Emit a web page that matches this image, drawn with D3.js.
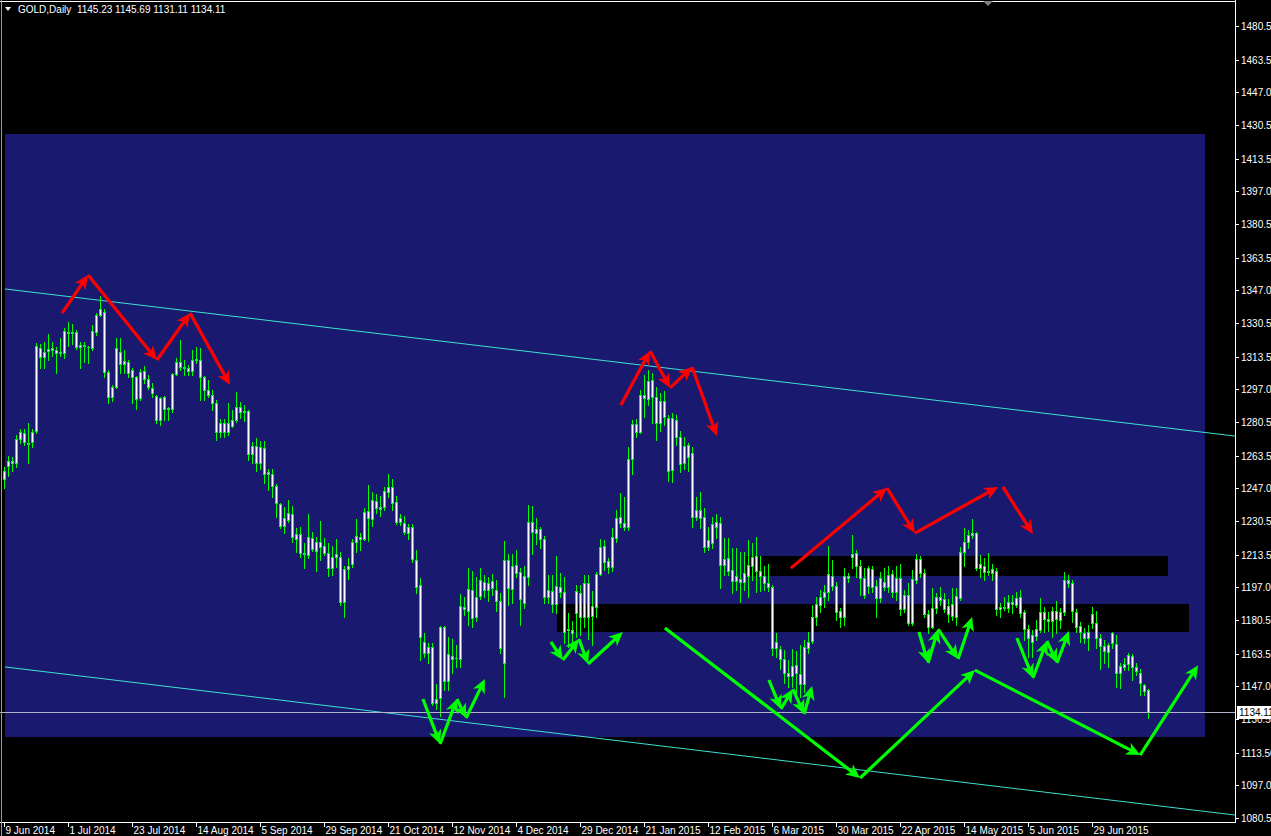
<!DOCTYPE html>
<html><head><meta charset="utf-8">
<script src="https://cdn.jsdelivr.net/npm/d3@7"></script>
<style>html,body{margin:0;padding:0;background:#000;overflow:hidden}svg{display:block}</style>
</head><body>
<script>
// ---------- DATA ----------
const symbolTitle = "GOLD,Daily";
const lastQuote = ["1145.23", "1145.69", "1131.11", "1134.11"];
const bidPrice = 1134.11;

const opens = [1251.5,1258.5,1261,1260,1272,1275,1270,1270.5,1276,1318,1313.5,1316.5,1317,1317,1315.5,1315.5,1326,1325.5,1326,1318.5,1319.4,1318.5,1318,1326,1334.5,1336,1306,1293,1298,1316,1310,1311,1306.7,1303,1292.5,1306.5,1302,1297.7,1293.6,1281.5,1293,1287,1287,1304.5,1311,1308.5,1308,1306.5,1312,1312,1303,1296.5,1294,1290,1275.4,1280,1275.5,1278.5,1281.5,1288,1285.5,1286,1264.3,1268.4,1259.8,1267.4,1255,1254.2,1248.2,1239.1,1228,1231,1234,1221.4,1223.9,1214.3,1213.3,1222,1215.4,1219.9,1218,1214.3,1206.7,1212.3,1212.3,1189.6,1206.2,1208.8,1220,1222.5,1221.4,1235.5,1231.5,1240.6,1237.5,1237.6,1245,1247.7,1240.1,1230,1229.5,1224.5,1227.5,1210.8,1198.2,1169.4,1163.8,1166.9,1138.6,1141.1,1176.9,1149.7,1162.3,1161.3,1160.8,1187,1185.1,1195.7,1182,1192.6,1199.7,1195.7,1200.2,1195.7,1190.1,1158.8,1210.8,1196.2,1208.3,1204.7,1189.1,1202.2,1230,1224.4,1226.5,1221.4,1192.1,1195.2,1188.6,1197.2,1194.6,1175.5,1175.4,1184,1194.1,1182,1199.2,1182.5,1187.1,1203.7,1217.9,1210.3,1207.3,1221.9,1229.5,1229.5,1227.5,1261.8,1279.5,1275.4,1294,1292.1,1301.7,1293.1,1280,1291.1,1282.5,1256.3,1281.5,1272.9,1259.8,1268.9,1264.8,1232.5,1236.1,1232.5,1217.4,1219.4,1230,1229.5,1208.3,1211.8,1205.7,1200.2,1201.2,1199.7,1202.7,1207.8,1212.8,1205.2,1202.7,1199.2,1197.2,1166.4,1165.9,1160.8,1153.7,1152.2,1157.8,1153.2,1148.2,1166.4,1169.9,1182,1188.1,1192.1,1194.6,1202.7,1197.7,1185,1182,1202.7,1212.3,1214.3,1207.8,1201.7,1197.7,1206.2,1197.7,1191.6,1199.7,1197.2,1203.7,1194.6,1201.7,1186.1,1193.1,1179,1200.7,1211.3,1204.2,1183.5,1176.9,1186.6,1192.1,1191.1,1187.6,1188.6,1182,1191.6,1214.8,1219.9,1223.4,1224.4,1206.7,1207.7,1205.2,1204.2,1205.2,1186.1,1187.1,1186.6,1189.6,1188.1,1192.1,1184.5,1176,1172.9,1172.4,1175.5,1184.5,1181,1180,1185,1180.5,1184.5,1200.7,1199.2,1184.5,1177.4,1173.9,1171.4,1179,1179,1171.4,1167.4,1164.3,1168.9,1168.4,1153.7,1156.8,1158.3,1162.3,1156.8,1153.7,1147.7,1145.23];
const highs = [1258,1263.5,1263,1274,1277,1277,1280,1277,1320.5,1320,1321,1325,1321,1318.5,1323,1328,1331,1330,1327,1321,1321,1318.8,1329.5,1335.5,1344,1337.5,1307,1299,1323,1323,1317,1312,1308,1303.5,1307.5,1309,1304,1300,1294,1293,1293.5,1288,1305,1312.8,1321.9,1311.8,1309.3,1316.9,1318.4,1318,1303.5,1301.7,1296.7,1291.6,1282,1282,1290,1286.6,1295.6,1290.6,1289,1286.6,1270.4,1272.4,1270.9,1270.9,1257,1256.8,1249.2,1239.6,1237.6,1241,1238,1227,1227.5,1219.4,1234,1225,1222.4,1230.5,1222,1219.4,1218,1221.4,1215,1207.8,1212,1221.4,1231.5,1224.4,1237,1248.7,1245,1244,1243,1247.5,1254,1251.5,1243,1234,1233,1229,1229,1215.8,1201.7,1174,1169,1169,1148,1177.4,1177.4,1172,1171,1167.9,1193.6,1192,1207,1205,1202,1207,1203,1202,1203.5,1200.7,1194,1220.4,1214,1213.8,1215.9,1207,1208,1238.5,1238,1232,1227.5,1223,1203,1203,1213,1204,1202,1184,1180,1198,1198,1203,1203,1195,1204.5,1221.5,1221,1212,1227,1236,1244.5,1242.5,1267.8,1281.5,1282,1296.8,1304,1307,1305,1298,1295,1296,1284,1285,1284,1276,1273,1270,1268,1242.5,1245,1237,1227.5,1232.5,1234,1232.5,1222,1221.8,1217,1216.7,1214.8,1214.8,1221,1219.4,1222.4,1213,1208,1209,1198,1174,1167.6,1165.4,1160.3,1165.9,1165,1167.9,1170.4,1174.4,1188,1192,1195.7,1198,1218,1210.8,1199.7,1186.6,1206.6,1204,1223.6,1215.9,1210.8,1207,1208,1208,1200.7,1204.7,1207,1208,1205.7,1208,1209,1195.6,1199,1206,1214,1212.8,1206.5,1185.6,1196.7,1194,1197,1194,1191,1196.7,1196.5,1217.4,1227,1226,1231.5,1225,1213.3,1211.8,1214.3,1209,1206.7,1189,1192,1193,1193,1194.6,1195.7,1185.5,1178,1175.5,1180.5,1191.6,1187,1184.5,1187,1190,1186.5,1204.7,1203,1200.7,1186,1179.5,1176.5,1178,1187,1185,1173.5,1170.4,1169,1174.5,1173,1158.8,1161.3,1163.8,1163.4,1158.8,1156,1148,1145.69];
const lows = [1247,1253,1256,1258,1270,1269,1260,1268,1275,1308,1308,1312,1314,1305,1314,1313,1319,1320,1317.5,1308,1311,1310.5,1317,1324.5,1334,1303,1290,1291,1297.5,1305,1305,1303,1290,1287,1291.5,1300,1297,1293,1280,1279,1281.5,1281.5,1285.5,1304,1306.7,1304,1304,1304,1310.3,1291.6,1291.6,1293,1286.6,1271.4,1272.9,1273,1273.9,1278,1280.5,1282.5,1281,1261.3,1260,1255.8,1256.8,1249.7,1246,1242.6,1232.5,1227,1224.4,1230,1220,1214.8,1212.3,1206.7,1212,1215.4,1205.3,1210.8,1213.3,1202.7,1203,1207.2,1188,1182,1201,1207.3,1214.8,1215.9,1221,1220.4,1228,1234.5,1233,1236,1242.5,1236,1229,1228.5,1224,1221.4,1209.8,1194,1160.3,1162,1159,1137.5,1135.5,1132,1145,1145,1153.8,1156.8,1157,1183,1178,1177,1180,1191,1192,1190,1193,1185,1164,1141.6,1188,1189,1202,1178,1186.5,1198,1214,1219,1217,1189,1189,1184.5,1184,1192,1169,1167,1169,1172,1173,1177,1171,1168,1182,1203,1206,1204,1205,1220,1227.6,1226,1226,1254,1273,1275,1283,1289,1280,1271.5,1276,1279,1250.7,1250,1269,1255,1257,1256,1227.5,1231,1227,1214.8,1215.8,1216.8,1222,1196.6,1203,1203,1194,1195.7,1189.6,1195.7,1192,1200.7,1194.6,1195,1195.7,1195,1163,1162,1156,1148.7,1146.7,1146.7,1143.5,1141.6,1144,1163.8,1169,1178,1184.5,1187,1190.6,1195.7,1180.5,1177,1178,1199.7,1207,1202,1193,1191.6,1194,1194.6,1182,1189.6,1195.7,1194.6,1192,1190.6,1183,1184.6,1178,1178,1199,1202,1182,1174,1176.4,1184,1188,1184.5,1179.5,1180.5,1178,1190.6,1208,1217,1222,1206,1202,1200.7,1203,1200.7,1183,1182,1185.6,1184.5,1184,1187,1182,1170.4,1162,1162,1170.4,1174.5,1174.5,1175,1172,1174,1176.5,1183,1197,1179.5,1174.4,1169.4,1168.9,1165.4,1176.4,1166.4,1156,1159,1157,1166.5,1146.7,1146,1155,1155,1150,1152.7,1142.6,1142.6,1131.11];
const closes = [1256,1261,1260,1272,1275.5,1270.5,1269.5,1275.5,1319,1313.5,1316,1317.3,1318,1315.5,1316,1326.5,1325.5,1326,1318.5,1319.4,1319,1318.3,1326.5,1334.5,1337.5,1306,1293,1298,1318,1310,1311.3,1305,1303.2,1292,1306,1302,1298,1295.2,1281.5,1292.5,1287,1287.5,1304.5,1311,1308.5,1308,1306.5,1311.8,1312.5,1303,1296.7,1294,1290,1275.4,1280,1275.5,1280,1281.5,1288,1285.5,1286,1264.3,1268.4,1259.8,1267.8,1254.2,1254.2,1248.2,1239.6,1228,1232,1234.5,1222.4,1223.9,1214.3,1213.8,1222.4,1216.4,1219.9,1217.4,1214.3,1206.7,1212.3,1213.8,1189.6,1206.2,1207.7,1219.9,1222.9,1221.5,1235,1232,1241,1237.1,1236.5,1245.6,1247.7,1239.6,1230,1232,1225,1227.5,1211.3,1197.2,1171.9,1163.8,1166.9,1138.6,1140.6,1176.9,1149.7,1163.3,1160.8,1161.1,1187.6,1186,1196.2,1181.5,1192.1,1200.7,1195.7,1199.2,1196.6,1190.1,1166.4,1210.8,1196.6,1207.8,1204.2,1191.1,1202.7,1230,1224.9,1226.5,1221.4,1192.1,1195.7,1188.6,1197.7,1194.6,1174.4,1176,1173.9,1195.2,1182,1199.2,1182,1187.6,1203.7,1217.4,1209.8,1207.3,1222.4,1232,1232.5,1227.5,1261.8,1279.5,1275.4,1294.1,1292.5,1301.2,1293.1,1280,1291.1,1283,1255.8,1282.5,1272.9,1259.3,1268.4,1262.8,1232.5,1236.1,1232,1217.4,1220.9,1229,1227.5,1208.3,1211.3,1205.2,1200.2,1202.7,1199.7,1204.2,1208.3,1212.3,1205.2,1202.7,1199.2,1197.2,1166.4,1169.4,1160.8,1153.7,1152.2,1157.3,1153.7,1148.2,1166.9,1169.4,1182,1188.6,1192.1,1194.6,1203.7,1197.7,1184.5,1182,1202.7,1201.7,1213.8,1207.8,1201.7,1193.1,1206.7,1197.2,1191.6,1201.7,1197.2,1203.2,1194.6,1201.7,1186.1,1193.1,1179,1201.2,1211.3,1204.2,1183.5,1176.9,1186.6,1192.1,1190.6,1186.1,1183.5,1182.5,1192.6,1214.8,1219.9,1223.4,1224.4,1206.7,1208.8,1204.7,1204.7,1206.2,1186.1,1187.1,1186.6,1189.6,1188.6,1191.6,1184,1176,1171.4,1169.4,1176,1184.5,1181,1180,1185,1181,1184.5,1200.7,1199.2,1185,1176.9,1174.4,1171.4,1174.4,1183.5,1171.4,1167.4,1164.8,1167.9,1173.9,1153.7,1157.3,1158.3,1162.8,1156.8,1154.7,1148.7,1144.6,1134.11];

// price scale labels (right axis)
const priceTicks = [1480.5,1463.5,1447,1430.5,1413.5,1397,1380.5,1363.5,1347,1330.5,1313.5,1297,1280.5,1263.5,1247,1230.5,1213.5,1197,1180.5,1163.5,1147,1130.5,1113.5,1097,1080.5];
// time scale labels (bar index of each label)
const dateTickBars = [0,16,32,48,64,80,96,112,128,144,160,176,192,208,224,240,256,272];
const dateTickLabels = ["9 Jun 2014","1 Jul 2014","23 Jul 2014","14 Aug 2014","5 Sep 2014","29 Sep 2014","21 Oct 2014","12 Nov 2014","4 Dec 2014","29 Dec 2014","21 Jan 2015","12 Feb 2015","6 Mar 2015","30 Mar 2015","22 Apr 2015","14 May 2015","5 Jun 2015","29 Jun 2015"];

// drawn objects, in (bar index, price)
const zoneRect = [[0.1,1425.9],[300.1,1121.4]];
const resistanceBand = [[185.1,1212.8],[290.9,1202.7]];
const supportBand = [[138.1,1188.6],[296.1,1174.4]];
const upperChannel = [[0.1,1347.7],[307.6,1273.4]];
const lowerChannel = [[0.1,1156.8],[307.6,1082.0]];
const redPaths = [
  [[14.4,1335.5],[20.9,1354.7],[38.1,1311.8],[46.4,1335.5],[56.4,1299.2]],
  [[154.1,1289.1],[161.4,1316.4],[166.4,1297.7],[171.9,1308.3],[178.1,1273.4]],
  [[196.6,1206.7],[220.6,1247.2],[227.6,1224.4],[248.4,1247.7]],
  [[249.6,1247.7],[257.1,1223.9]]
];
const greenPaths = [
  [[104.6,1140.6],[108.9,1117.9],[113.1,1140.6],[115.4,1131],[120.1,1150.7]],
  [[136.6,1169.4],[139.6,1160.3],[143.6,1170.9],[145.9,1158.3],[154.6,1174.4]],
  [[191.1,1150.2],[194.1,1135.6],[197.1,1145.6],[199.9,1133],[201.9,1147.2]],
  [[228.6,1174.4],[230.9,1158.8],[233.4,1175.9],[238.4,1160.8],[241.9,1182]],
  [[253.1,1171.4],[257.1,1151.2],[260.6,1169.9],[263.1,1158.8],[266.1,1174.9]],
  [[165.1,1176.5],[213.9,1100.7],[242.6,1155.2],[283.9,1112.3],[298.4,1157.7]]
];

// ---------- DRAW ----------
const W = 1271, H = 836;
const plotRight = 1235, plotBottom = 822;
const FONT = "'Liberation Sans', Arial, sans-serif";

const svg = d3.select("body").append("svg").attr("width", W).attr("height", H)
  .style("background", "#000");

const x = d3.scaleLinear().domain([0, 286]).range([4.5, 1148.5]);
const y = d3.scaleLinear().domain([1080.5, 1480.5]).range([818, 26]);

const clip = svg.append("defs").append("clipPath").attr("id", "plot")
  .append("rect").attr("x", 0).attr("y", 0).attr("width", plotRight).attr("height", plotBottom);
const plot = svg.append("g").attr("clip-path", "url(#plot)");

function rectFrom(g, r, color) {
  const x0 = x(r[0][0]), x1 = x(r[1][0]);
  const y0 = y(r[0][1]), y1 = y(r[1][1]);
  g.append("rect").attr("x", Math.round(x0)).attr("y", Math.round(y0))
    .attr("width", Math.round(x1 - x0)).attr("height", Math.round(y1 - y0))
    .attr("fill", color).attr("shape-rendering", "crispEdges");
}
rectFrom(plot, zoneRect, "#191970");
rectFrom(plot, resistanceBand, "#000000");
rectFrom(plot, supportBand, "#000000");

// channel lines (rays to the right edge)
[upperChannel, lowerChannel].forEach(l => {
  const slope = (l[1][1] - l[0][1]) / (l[1][0] - l[0][0]);
  const endBar = x.invert(plotRight + 5);
  plot.append("line")
    .attr("x1", x(l[0][0])).attr("y1", y(l[0][1]))
    .attr("x2", x(endBar)).attr("y2", y(l[0][1] + slope * (endBar - l[0][0])))
    .attr("stroke", "#40E0D0").attr("stroke-width", 1);
});

// candles
const cg = plot.append("g").attr("shape-rendering", "crispEdges");
opens.forEach((o, i) => {
  const c = closes[i], hi = highs[i], lo = lows[i];
  const cx = Math.floor(x(i));
  const yh = Math.round(y(hi)), yl = Math.round(y(lo));
  const yt = Math.round(y(Math.max(o, c))), yb = Math.round(y(Math.min(o, c)));
  cg.append("rect").attr("x", cx).attr("y", yh).attr("width", 1).attr("height", yl - yh + 1).attr("fill", "#00ff00");
  cg.append("rect").attr("x", cx - 1).attr("y", yt).attr("width", 3).attr("height", Math.max(1, yb - yt + 1)).attr("fill", "#00ff00");
  if (yb - yt >= 2) {
    cg.append("rect").attr("x", cx).attr("y", yt + 1).attr("width", 1).attr("height", yb - yt - 1).attr("fill", "#ffffff");
  }
});

// bid line
plot.append("line").attr("x1", 0).attr("x2", plotRight)
  .attr("y1", Math.round(y(bidPrice)) + 0.5).attr("y2", Math.round(y(bidPrice)) + 0.5)
  .attr("stroke", "#b4b4c8").attr("stroke-width", 1);

// arrows
function arrow(g, p0, p1, color) {
  const x0 = x(p0[0]), y0 = y(p0[1]), x1 = x(p1[0]), y1 = y(p1[1]);
  const dx = x1 - x0, dy = y1 - y0, len = Math.hypot(dx, dy);
  const ux = dx / len, uy = dy / len, px = -uy, py = ux;
  const L = 14, Wd = 6.5;
  g.append("line").attr("x1", x0).attr("y1", y0)
    .attr("x2", x1 - ux * L * 0.6).attr("y2", y1 - uy * L * 0.6)
    .attr("stroke", color).attr("stroke-width", 3.2).attr("stroke-linecap", "butt");
  const pts = [
    [x1, y1],
    [x1 - ux * L + px * Wd, y1 - uy * L + py * Wd],
    [x1 - ux * L * 0.72, y1 - uy * L * 0.72],
    [x1 - ux * L - px * Wd, y1 - uy * L - py * Wd]
  ];
  g.append("polygon").attr("points", pts.map(p => p.join(",")).join(" ")).attr("fill", color);
}
const ag = plot.append("g");
redPaths.forEach(path => { for (let k = 0; k < path.length - 1; k++) arrow(ag, path[k], path[k + 1], "#ff0000"); });
greenPaths.forEach(path => { for (let k = 0; k < path.length - 1; k++) arrow(ag, path[k], path[k + 1], "#00ff00"); });

// frame
svg.append("line").attr("x1", plotRight + 0.5).attr("x2", plotRight + 0.5).attr("y1", 0).attr("y2", plotBottom + 1)
  .attr("stroke", "#fff").attr("stroke-width", 1);
svg.append("line").attr("x1", 0).attr("x2", plotRight + 1).attr("y1", plotBottom + 0.5).attr("y2", plotBottom + 0.5)
  .attr("stroke", "#fff").attr("stroke-width", 1);
svg.append("line").attr("x1", 0).attr("x2", plotRight + 1).attr("y1", 1.5).attr("y2", 1.5)
  .attr("stroke", "#fff").attr("stroke-width", 1);
svg.append("line").attr("x1", 1.5).attr("x2", 1.5).attr("y1", 0).attr("y2", H)
  .attr("stroke", "#9a9a9a").attr("stroke-width", 1);

// right price axis
const ra = svg.append("g");
priceTicks.forEach(v => {
  const yy = Math.round(y(v)) + 0.5;
  ra.append("line").attr("x1", plotRight + 1).attr("x2", plotRight + 4).attr("y1", yy).attr("y2", yy).attr("stroke", "#fff");
  ra.append("text").attr("x", plotRight + 6).attr("y", yy + 3.5).attr("fill", "#fff")
    .attr("font-family", FONT).attr("font-size", 10).text(v.toFixed(2));
});
// current price label
const by = Math.round(y(bidPrice));
ra.append("rect").attr("x", plotRight + 2).attr("y", by - 6).attr("width", W - plotRight - 2).attr("height", 13).attr("fill", "#fff");
ra.append("text").attr("x", plotRight + 4).attr("y", by + 4).attr("fill", "#000")
  .attr("font-family", FONT).attr("font-size", 10).text(bidPrice.toFixed(2));

// bottom time axis
const ba = svg.append("g");
dateTickBars.forEach((b, k) => {
  const xx = Math.floor(x(b)) + 0.5;
  ba.append("line").attr("x1", xx).attr("x2", xx).attr("y1", plotBottom + 1).attr("y2", plotBottom + 5).attr("stroke", "#fff");
  ba.append("text").attr("x", xx + 1).attr("y", 834).attr("fill", "#fff")
    .attr("font-family", FONT).attr("font-size", 10).text(dateTickLabels[k]);
});

// header
svg.append("polygon").attr("points", "5,7 11,7 8,11").attr("fill", "#fff");
svg.append("text").attr("x", 18).attr("y", 13).attr("fill", "#fff").attr("font-family", FONT).attr("font-size", 10)
  .attr("xml:space", "preserve").text(symbolTitle + "  " + lastQuote.join(" "));

// chart shift marker
svg.append("polygon").attr("points", "983,1 993,1 988,6").attr("fill", "#808080");
</script>
</body></html>
